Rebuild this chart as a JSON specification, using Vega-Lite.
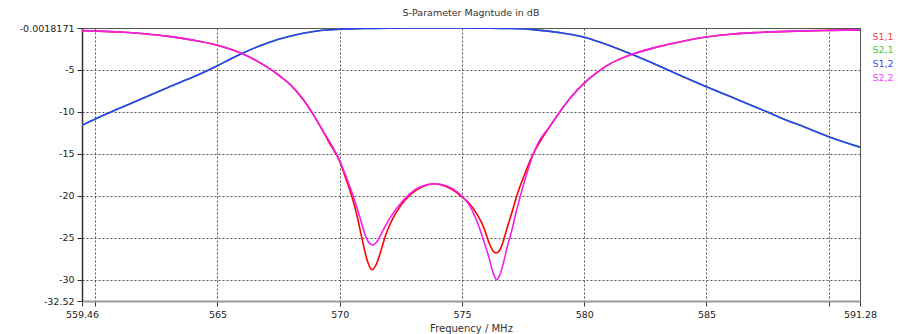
{
  "$schema": "https://vega.github.io/schema/vega-lite/v6.json",
  "width": 778,
  "height": 273,
  "autosize": {"type": "none"},
  "padding": {"left": 82, "top": 28, "right": 40, "bottom": 33},
  "background": "white",
  "title": {"text": "S-Parameter Magntude in dB", "font": "DejaVu Sans", "fontSize": 9.5, "fontWeight": "normal", "color": "#333333", "anchor": "middle", "offset": 6},
  "config": {"view": {"stroke": "#555555", "strokeWidth": 1}},
  "data": {"values": [
    {"freq": 559.46, "dB": -0.31, "param": "S1,1"},
    {"freq": 560, "dB": -0.36, "param": "S1,1"},
    {"freq": 561, "dB": -0.48, "param": "S1,1"},
    {"freq": 562, "dB": -0.69, "param": "S1,1"},
    {"freq": 563, "dB": -1.0, "param": "S1,1"},
    {"freq": 564, "dB": -1.45, "param": "S1,1"},
    {"freq": 565, "dB": -2.05, "param": "S1,1"},
    {"freq": 566, "dB": -3.05, "param": "S1,1"},
    {"freq": 567, "dB": -4.6, "param": "S1,1"},
    {"freq": 567.5, "dB": -5.6, "param": "S1,1"},
    {"freq": 568, "dB": -6.8, "param": "S1,1"},
    {"freq": 568.5, "dB": -8.5, "param": "S1,1"},
    {"freq": 569, "dB": -10.7, "param": "S1,1"},
    {"freq": 569.3, "dB": -12.2, "param": "S1,1"},
    {"freq": 569.6, "dB": -13.8, "param": "S1,1"},
    {"freq": 570, "dB": -15.9, "param": "S1,1"},
    {"freq": 570.27, "dB": -18.1, "param": "S1,1"},
    {"freq": 570.54, "dB": -20.5, "param": "S1,1"},
    {"freq": 570.75, "dB": -22.9, "param": "S1,1"},
    {"freq": 570.95, "dB": -25.6, "param": "S1,1"},
    {"freq": 571.15, "dB": -27.9, "param": "S1,1"},
    {"freq": 571.33, "dB": -28.8, "param": "S1,1"},
    {"freq": 571.49, "dB": -28.2, "param": "S1,1"},
    {"freq": 571.7, "dB": -26.4, "param": "S1,1"},
    {"freq": 571.9, "dB": -24.5, "param": "S1,1"},
    {"freq": 572.17, "dB": -22.7, "param": "S1,1"},
    {"freq": 572.51, "dB": -21.1, "param": "S1,1"},
    {"freq": 572.92, "dB": -19.75, "param": "S1,1"},
    {"freq": 573.4, "dB": -18.87, "param": "S1,1"},
    {"freq": 573.87, "dB": -18.55, "param": "S1,1"},
    {"freq": 574.35, "dB": -18.87, "param": "S1,1"},
    {"freq": 574.76, "dB": -19.55, "param": "S1,1"},
    {"freq": 575, "dB": -20.13, "param": "S1,1"},
    {"freq": 575.3, "dB": -20.9, "param": "S1,1"},
    {"freq": 575.64, "dB": -22.3, "param": "S1,1"},
    {"freq": 575.91, "dB": -23.9, "param": "S1,1"},
    {"freq": 576.11, "dB": -25.6, "param": "S1,1"},
    {"freq": 576.28, "dB": -26.6, "param": "S1,1"},
    {"freq": 576.4, "dB": -26.8, "param": "S1,1"},
    {"freq": 576.55, "dB": -26.45, "param": "S1,1"},
    {"freq": 576.66, "dB": -25.66, "param": "S1,1"},
    {"freq": 576.86, "dB": -23.7, "param": "S1,1"},
    {"freq": 577.07, "dB": -21.7, "param": "S1,1"},
    {"freq": 577.27, "dB": -19.75, "param": "S1,1"},
    {"freq": 577.54, "dB": -17.6, "param": "S1,1"},
    {"freq": 577.88, "dB": -15.2, "param": "S1,1"},
    {"freq": 578.22, "dB": -13.4, "param": "S1,1"},
    {"freq": 578.6, "dB": -11.7, "param": "S1,1"},
    {"freq": 579, "dB": -10, "param": "S1,1"},
    {"freq": 579.5, "dB": -8.1, "param": "S1,1"},
    {"freq": 580, "dB": -6.56, "param": "S1,1"},
    {"freq": 580.5, "dB": -5.35, "param": "S1,1"},
    {"freq": 581.05, "dB": -4.27, "param": "S1,1"},
    {"freq": 581.5, "dB": -3.65, "param": "S1,1"},
    {"freq": 582, "dB": -3.1, "param": "S1,1"},
    {"freq": 583, "dB": -2.25, "param": "S1,1"},
    {"freq": 584, "dB": -1.6, "param": "S1,1"},
    {"freq": 585, "dB": -1.08, "param": "S1,1"},
    {"freq": 586, "dB": -0.74, "param": "S1,1"},
    {"freq": 587, "dB": -0.55, "param": "S1,1"},
    {"freq": 588, "dB": -0.43, "param": "S1,1"},
    {"freq": 589, "dB": -0.35, "param": "S1,1"},
    {"freq": 590, "dB": -0.29, "param": "S1,1"},
    {"freq": 591.28, "dB": -0.22, "param": "S1,1"},

    {"freq": 559.46, "dB": -11.6, "param": "S2,1"},
    {"freq": 560, "dB": -10.85, "param": "S2,1"},
    {"freq": 561, "dB": -9.55, "param": "S2,1"},
    {"freq": 562, "dB": -8.3, "param": "S2,1"},
    {"freq": 563, "dB": -7.05, "param": "S2,1"},
    {"freq": 564, "dB": -5.85, "param": "S2,1"},
    {"freq": 565, "dB": -4.5, "param": "S2,1"},
    {"freq": 565.5, "dB": -3.75, "param": "S2,1"},
    {"freq": 566, "dB": -3.05, "param": "S2,1"},
    {"freq": 566.5, "dB": -2.4, "param": "S2,1"},
    {"freq": 567, "dB": -1.85, "param": "S2,1"},
    {"freq": 567.5, "dB": -1.35, "param": "S2,1"},
    {"freq": 568, "dB": -0.95, "param": "S2,1"},
    {"freq": 568.5, "dB": -0.62, "param": "S2,1"},
    {"freq": 569, "dB": -0.38, "param": "S2,1"},
    {"freq": 569.5, "dB": -0.24, "param": "S2,1"},
    {"freq": 570, "dB": -0.15, "param": "S2,1"},
    {"freq": 571, "dB": -0.05, "param": "S2,1"},
    {"freq": 572, "dB": -0.012, "param": "S2,1"},
    {"freq": 573, "dB": -0.003, "param": "S2,1"},
    {"freq": 574, "dB": -0.0018, "param": "S2,1"},
    {"freq": 575, "dB": -0.004, "param": "S2,1"},
    {"freq": 576, "dB": -0.02, "param": "S2,1"},
    {"freq": 577, "dB": -0.07, "param": "S2,1"},
    {"freq": 578, "dB": -0.22, "param": "S2,1"},
    {"freq": 579, "dB": -0.55, "param": "S2,1"},
    {"freq": 580, "dB": -1.1, "param": "S2,1"},
    {"freq": 580.5, "dB": -1.55, "param": "S2,1"},
    {"freq": 581, "dB": -2.05, "param": "S2,1"},
    {"freq": 582, "dB": -3.2, "param": "S2,1"},
    {"freq": 583, "dB": -4.45, "param": "S2,1"},
    {"freq": 584, "dB": -5.75, "param": "S2,1"},
    {"freq": 585, "dB": -7.0, "param": "S2,1"},
    {"freq": 586, "dB": -8.2, "param": "S2,1"},
    {"freq": 587, "dB": -9.4, "param": "S2,1"},
    {"freq": 588, "dB": -10.65, "param": "S2,1"},
    {"freq": 589, "dB": -11.8, "param": "S2,1"},
    {"freq": 590, "dB": -12.95, "param": "S2,1"},
    {"freq": 591.28, "dB": -14.2, "param": "S2,1"},

    {"freq": 559.46, "dB": -11.6, "param": "S1,2"},
    {"freq": 560, "dB": -10.85, "param": "S1,2"},
    {"freq": 561, "dB": -9.55, "param": "S1,2"},
    {"freq": 562, "dB": -8.3, "param": "S1,2"},
    {"freq": 563, "dB": -7.05, "param": "S1,2"},
    {"freq": 564, "dB": -5.85, "param": "S1,2"},
    {"freq": 565, "dB": -4.5, "param": "S1,2"},
    {"freq": 565.5, "dB": -3.75, "param": "S1,2"},
    {"freq": 566, "dB": -3.05, "param": "S1,2"},
    {"freq": 566.5, "dB": -2.4, "param": "S1,2"},
    {"freq": 567, "dB": -1.85, "param": "S1,2"},
    {"freq": 567.5, "dB": -1.35, "param": "S1,2"},
    {"freq": 568, "dB": -0.95, "param": "S1,2"},
    {"freq": 568.5, "dB": -0.62, "param": "S1,2"},
    {"freq": 569, "dB": -0.38, "param": "S1,2"},
    {"freq": 569.5, "dB": -0.24, "param": "S1,2"},
    {"freq": 570, "dB": -0.15, "param": "S1,2"},
    {"freq": 571, "dB": -0.05, "param": "S1,2"},
    {"freq": 572, "dB": -0.012, "param": "S1,2"},
    {"freq": 573, "dB": -0.003, "param": "S1,2"},
    {"freq": 574, "dB": -0.0018, "param": "S1,2"},
    {"freq": 575, "dB": -0.004, "param": "S1,2"},
    {"freq": 576, "dB": -0.02, "param": "S1,2"},
    {"freq": 577, "dB": -0.07, "param": "S1,2"},
    {"freq": 578, "dB": -0.22, "param": "S1,2"},
    {"freq": 579, "dB": -0.55, "param": "S1,2"},
    {"freq": 580, "dB": -1.1, "param": "S1,2"},
    {"freq": 580.5, "dB": -1.55, "param": "S1,2"},
    {"freq": 581, "dB": -2.05, "param": "S1,2"},
    {"freq": 582, "dB": -3.2, "param": "S1,2"},
    {"freq": 583, "dB": -4.45, "param": "S1,2"},
    {"freq": 584, "dB": -5.75, "param": "S1,2"},
    {"freq": 585, "dB": -7.0, "param": "S1,2"},
    {"freq": 586, "dB": -8.2, "param": "S1,2"},
    {"freq": 587, "dB": -9.4, "param": "S1,2"},
    {"freq": 588, "dB": -10.65, "param": "S1,2"},
    {"freq": 589, "dB": -11.8, "param": "S1,2"},
    {"freq": 590, "dB": -12.95, "param": "S1,2"},
    {"freq": 591.28, "dB": -14.2, "param": "S1,2"},

    {"freq": 559.46, "dB": -0.31, "param": "S2,2"},
    {"freq": 560, "dB": -0.36, "param": "S2,2"},
    {"freq": 561, "dB": -0.48, "param": "S2,2"},
    {"freq": 562, "dB": -0.69, "param": "S2,2"},
    {"freq": 563, "dB": -1.0, "param": "S2,2"},
    {"freq": 564, "dB": -1.45, "param": "S2,2"},
    {"freq": 565, "dB": -2.05, "param": "S2,2"},
    {"freq": 566, "dB": -3.05, "param": "S2,2"},
    {"freq": 567, "dB": -4.6, "param": "S2,2"},
    {"freq": 567.5, "dB": -5.6, "param": "S2,2"},
    {"freq": 568, "dB": -6.8, "param": "S2,2"},
    {"freq": 568.5, "dB": -8.5, "param": "S2,2"},
    {"freq": 569, "dB": -10.7, "param": "S2,2"},
    {"freq": 569.3, "dB": -12.2, "param": "S2,2"},
    {"freq": 569.6, "dB": -13.6, "param": "S2,2"},
    {"freq": 570, "dB": -15.8, "param": "S2,2"},
    {"freq": 570.27, "dB": -17.76, "param": "S2,2"},
    {"freq": 570.54, "dB": -19.9, "param": "S2,2"},
    {"freq": 570.82, "dB": -22.5, "param": "S2,2"},
    {"freq": 571.02, "dB": -24.45, "param": "S2,2"},
    {"freq": 571.2, "dB": -25.6, "param": "S2,2"},
    {"freq": 571.36, "dB": -25.85, "param": "S2,2"},
    {"freq": 571.52, "dB": -25.45, "param": "S2,2"},
    {"freq": 571.77, "dB": -24.1, "param": "S2,2"},
    {"freq": 572.04, "dB": -22.7, "param": "S2,2"},
    {"freq": 572.38, "dB": -21.3, "param": "S2,2"},
    {"freq": 572.85, "dB": -19.8, "param": "S2,2"},
    {"freq": 573.33, "dB": -18.87, "param": "S2,2"},
    {"freq": 573.87, "dB": -18.55, "param": "S2,2"},
    {"freq": 574.35, "dB": -18.8, "param": "S2,2"},
    {"freq": 574.82, "dB": -19.55, "param": "S2,2"},
    {"freq": 575, "dB": -20.05, "param": "S2,2"},
    {"freq": 575.3, "dB": -21.1, "param": "S2,2"},
    {"freq": 575.57, "dB": -22.7, "param": "S2,2"},
    {"freq": 575.84, "dB": -24.9, "param": "S2,2"},
    {"freq": 576.09, "dB": -27.2, "param": "S2,2"},
    {"freq": 576.28, "dB": -29.2, "param": "S2,2"},
    {"freq": 576.42, "dB": -30.0, "param": "S2,2"},
    {"freq": 576.55, "dB": -29.4, "param": "S2,2"},
    {"freq": 576.73, "dB": -27.6, "param": "S2,2"},
    {"freq": 576.86, "dB": -26.0, "param": "S2,2"},
    {"freq": 577.04, "dB": -24.1, "param": "S2,2"},
    {"freq": 577.2, "dB": -22.1, "param": "S2,2"},
    {"freq": 577.4, "dB": -19.9, "param": "S2,2"},
    {"freq": 577.61, "dB": -17.76, "param": "S2,2"},
    {"freq": 577.88, "dB": -15.3, "param": "S2,2"},
    {"freq": 578.15, "dB": -13.5, "param": "S2,2"},
    {"freq": 578.6, "dB": -11.7, "param": "S2,2"},
    {"freq": 579, "dB": -10, "param": "S2,2"},
    {"freq": 579.5, "dB": -8.1, "param": "S2,2"},
    {"freq": 580, "dB": -6.56, "param": "S2,2"},
    {"freq": 580.5, "dB": -5.35, "param": "S2,2"},
    {"freq": 581.05, "dB": -4.27, "param": "S2,2"},
    {"freq": 581.5, "dB": -3.65, "param": "S2,2"},
    {"freq": 582, "dB": -3.1, "param": "S2,2"},
    {"freq": 583, "dB": -2.25, "param": "S2,2"},
    {"freq": 584, "dB": -1.6, "param": "S2,2"},
    {"freq": 585, "dB": -1.08, "param": "S2,2"},
    {"freq": 586, "dB": -0.74, "param": "S2,2"},
    {"freq": 587, "dB": -0.55, "param": "S2,2"},
    {"freq": 588, "dB": -0.43, "param": "S2,2"},
    {"freq": 589, "dB": -0.35, "param": "S2,2"},
    {"freq": 590, "dB": -0.29, "param": "S2,2"},
    {"freq": 591.28, "dB": -0.22, "param": "S2,2"}
  ]},
  "mark": {"type": "line", "strokeWidth": 1.6, "interpolate": "monotone", "clip": true},
  "encoding": {
    "x": {
      "field": "freq", "type": "quantitative",
      "scale": {"domain": [559.46, 591.28], "nice": false, "zero": false},
      "axis": {
        "values": [559.46, 560, 565, 570, 575, 580, 585, 590, 591.28],
        "labelExpr": "datum.value == 560 || datum.value == 590 ? '' : '' + datum.value",
        "title": "Frequency / MHz",
        "titleFont": "DejaVu Sans", "titleFontSize": 10, "titleFontWeight": "normal", "titleColor": "#333333", "titlePadding": 5,
        "labelFont": "DejaVu Sans", "labelFontSize": 9.5, "labelColor": "#222222", "labelPadding": 3,
        "labelFlush": false, "labelOverlap": false,
        "grid": true, "gridDash": [2, 2], "gridColor": "#555555", "gridWidth": 1,
        "domainColor": "#9a9a9a", "domainWidth": 2,
        "tickColor": "#333333", "tickSize": 5, "tickWidth": 1
      }
    },
    "y": {
      "field": "dB", "type": "quantitative",
      "scale": {"domain": [-32.52, -0.0018171], "nice": false, "zero": false},
      "axis": {
        "values": [-32.52, -30, -25, -20, -15, -10, -5, -0.0018171],
        "labelExpr": "'' + datum.value",
        "title": null,
        "labelFont": "DejaVu Sans", "labelFontSize": 9.5, "labelColor": "#222222", "labelPadding": 3,
        "labelFlush": false, "labelOverlap": false,
        "grid": true, "gridDash": [2, 2], "gridColor": "#555555", "gridWidth": 1,
        "domainColor": "#333333", "domainWidth": 1.5,
        "tickColor": "#333333", "tickSize": 5, "tickWidth": 1
      }
    },
    "color": {
      "field": "param", "type": "nominal",
      "scale": {"domain": ["S1,1", "S2,1", "S1,2", "S2,2"], "range": ["#ff0000", "#00c800", "#3a3aff", "#f020f0"]},
      "legend": {
        "title": null, "orient": "none", "legendX": 781, "legendY": 4,
        "padding": 0, "symbolSize": 0, "symbolStrokeWidth": 0, "symbolOpacity": 0, "labelOffset": 0,
        "rowPadding": 2.7,
        "labelFont": "DejaVu Sans", "labelFontSize": 9.5,
        "encode": {"labels": {"update": {"fill": {"signal": "datum.value === 'S1,1' ? '#ff4040' : datum.value === 'S2,1' ? '#40d040' : datum.value === 'S1,2' ? '#4848ff' : '#ff40ff'"}}}}
      }
    }
  }
}
